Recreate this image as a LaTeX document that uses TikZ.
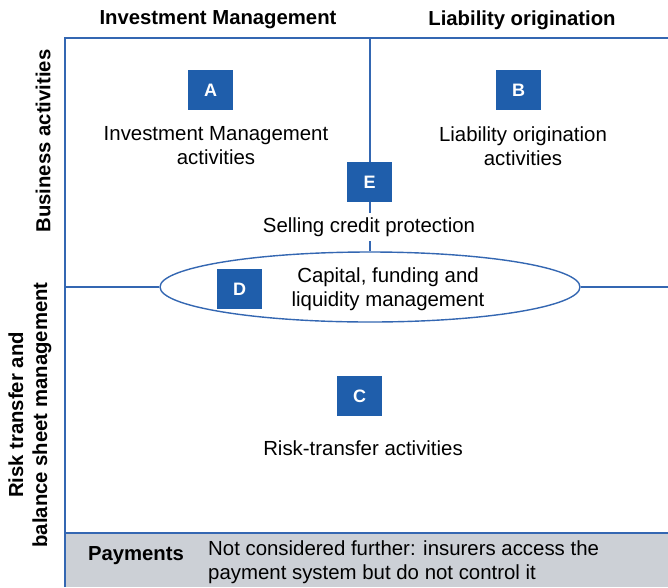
\documentclass[tikz,border=0pt]{standalone}
\usepackage{fontspec}
\setmainfont{Liberation Sans}
\usepackage{tikz}
\usetikzlibrary{shapes, positioning}
\definecolor{boxblue}{HTML}{1F5EAB}
\definecolor{lineblue}{HTML}{3467B2}
\definecolor{paygray}{HTML}{CCD0D6}
\tikzset{
    letterbox/.style={fill=boxblue, text=white, font=\fontsize{18}{20}\selectfont\bfseries,
        minimum width=45pt, minimum height=40pt, inner sep=0pt},
    plaintext/.style={font=\fontsize{20.4}{24}\selectfont, align=center, inner sep=2pt},
    headtext/.style={font=\fontsize{20.3}{24}\selectfont\bfseries, align=center, inner sep=0pt},
    frameline/.style={lineblue, line width=1.4pt}
}
\begin{document}
\begin{tikzpicture}[x=1pt, y=-1pt]
        \useasboundingbox (0,0) rectangle (668,587);
        % payments band
        \fill[paygray] (65,533) rectangle (668,587);
        \coordinate (topleft) at (65,38);
        \coordinate (topright) at (668,38);
        \coordinate (botleft) at (65,587);
        \coordinate (midtop) at (370,38);
        \coordinate (midleft) at (65,287);
        \coordinate (midright) at (668,287);
        \coordinate (payleft) at (65,533);
        \coordinate (payright) at (668,533);
        \node[ellipse, draw=lineblue, line width=1.4pt, fill=white, minimum width=420pt,
            minimum height=70pt, inner sep=0pt] (capital) at (370,287) {};
        \draw[frameline] (botleft) -- (topleft) -- (topright);
        \draw[frameline] (payleft) -- (payright);
        \draw[frameline] (midtop) -- (capital.north);
        \draw[frameline] (midleft) -- (capital.west);
        \draw[frameline] (capital.east) -- (midright);
        % headings
        \node[headtext] (invhead) at (218,20) {Investment Management};
        \node[headtext] (liahead) at (522,20) {Liability origination};
        \node[headtext, rotate=90] (bushead) at (43,141) {Business activities};
        \node[headtext, rotate=90] (riskhead) at (30,415) {Risk transfer and\\balance sheet management};
        % letter boxes and texts
        \node[letterbox] (A) at (210.5,90) {A};
        \node[plaintext] (invtext) at (216,146) {Investment Management\\activities};
        \node[letterbox] (B) at (518.5,90) {B};
        \node[plaintext] (liatext) at (523,146) {Liability origination\\activities};
        \node[letterbox] (E) at (369.5,182) {E};
        \node[plaintext, fill=white, inner sep=4pt] (selltext) at (369,227) {Selling credit protection};
        \node[letterbox] (D) at (239.5,289) {D};
        \node[plaintext] (captext) at (388,289) {Capital, funding and\\liquidity management};
        \node[letterbox] (C) at (359.5,396) {C};
        \node[plaintext] (risktext) at (363,448) {Risk-transfer activities};
        % payments
        \node[headtext] (payhead) at (136,556) {Payments};
        \node[plaintext, align=left, anchor=west, inner sep=0pt] (paytext) at (208,562)
            {Not considered further: insurers access the\\payment system but do not control it};
    \end{tikzpicture}
\end{document}
